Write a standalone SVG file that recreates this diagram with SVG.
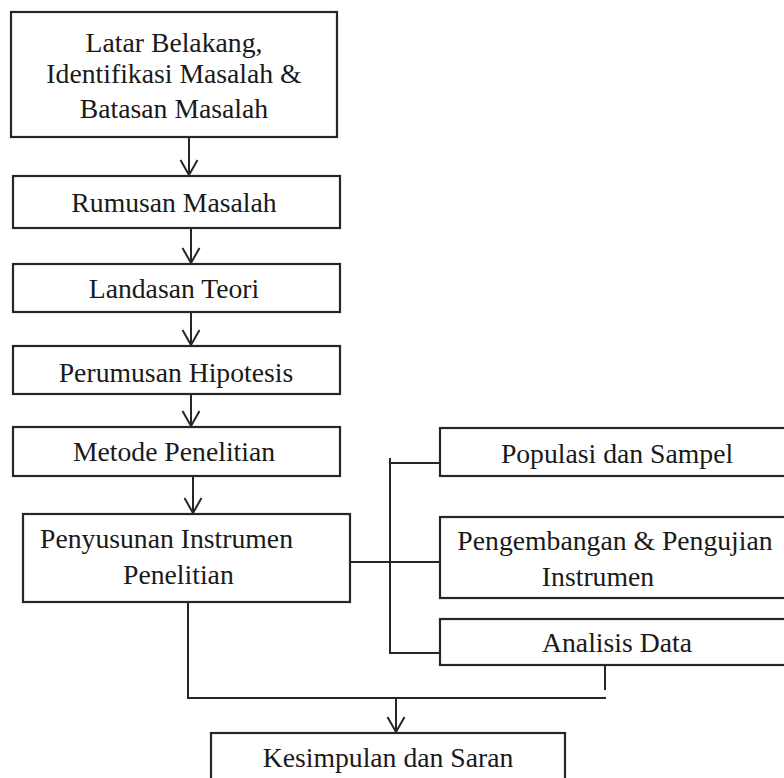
<svg xmlns="http://www.w3.org/2000/svg" width="784" height="778" viewBox="0 0 784 778">
<defs>
<marker id="arr" markerUnits="userSpaceOnUse" markerWidth="20" markerHeight="20" refX="0" refY="0" orient="auto" overflow="visible">
<path d="M -15 -8.5 L 0 0 L -15 8.5" fill="none" stroke="#262626" stroke-width="2"/>
</marker>
</defs>
<style>
rect{fill:#fff;stroke:#262626;stroke-width:2.2}
text{font-family:"Liberation Serif","Times New Roman",serif;font-size:27.7px;fill:#1a1a1a}
.c{text-anchor:middle}
#connectors line,#connectors polyline{fill:none;stroke:#262626;stroke-width:2}
</style>
<rect x="0" y="0" width="784" height="778" style="fill:#fff;stroke:none"/>
<g id="connectors">
<line x1="189" y1="137" x2="189" y2="175" marker-end="url(#arr)"/>
<line x1="191" y1="228" x2="191" y2="263" marker-end="url(#arr)"/>
<line x1="191" y1="312" x2="191" y2="345" marker-end="url(#arr)"/>
<line x1="191" y1="394" x2="191" y2="426" marker-end="url(#arr)"/>
<line x1="193" y1="476" x2="193" y2="513" marker-end="url(#arr)"/>
<line x1="390" y1="458" x2="390" y2="654"/>
<line x1="390" y1="463" x2="440" y2="463"/>
<line x1="350" y1="562" x2="440" y2="562"/>
<line x1="390" y1="653" x2="440" y2="653"/>
<polyline points="188,602 188,698 606,698"/>
<line x1="605" y1="666" x2="605" y2="690"/>
<line x1="396" y1="698" x2="396" y2="732" marker-end="url(#arr)"/>
</g>
<g id="latar">
<rect x="11" y="12" width="326" height="125"/>
<text class="c" x="174" y="52">Latar Belakang,</text>
<text class="c" x="174" y="83">Identifikasi Masalah &amp;</text>
<text class="c" x="174" y="118">Batasan Masalah</text>
</g>
<g id="rumusan">
<rect x="13" y="176" width="327" height="52"/>
<text class="c" x="174" y="212">Rumusan Masalah</text>
</g>
<g id="landasan">
<rect x="13" y="264" width="327" height="48"/>
<text class="c" x="174" y="298">Landasan Teori</text>
</g>
<g id="hipotesis">
<rect x="13" y="346" width="327" height="48"/>
<text class="c" x="176" y="382">Perumusan Hipotesis</text>
</g>
<g id="metode">
<rect x="13" y="427" width="327" height="49"/>
<text class="c" x="174" y="461">Metode Penelitian</text>
</g>
<g id="penyusunan">
<rect x="23" y="514" width="327" height="88"/>
<text x="40" y="548">Penyusunan Instrumen</text>
<text x="123" y="584">Penelitian</text>
</g>
<g id="populasi">
<rect x="440" y="428" width="360" height="48"/>
<text class="c" x="617" y="463">Populasi dan Sampel</text>
</g>
<g id="pengembangan">
<rect x="440" y="517" width="360" height="81"/>
<text class="c" x="615" y="550">Pengembangan &amp; Pengujian</text>
<text class="c" x="598" y="586">Instrumen</text>
</g>
<g id="analisis">
<rect x="440" y="619" width="360" height="46"/>
<text class="c" x="617" y="652">Analisis Data</text>
</g>
<g id="kesimpulan">
<rect x="211" y="733" width="354" height="60"/>
<text class="c" x="388" y="767">Kesimpulan dan Saran</text>
</g>
</svg>
